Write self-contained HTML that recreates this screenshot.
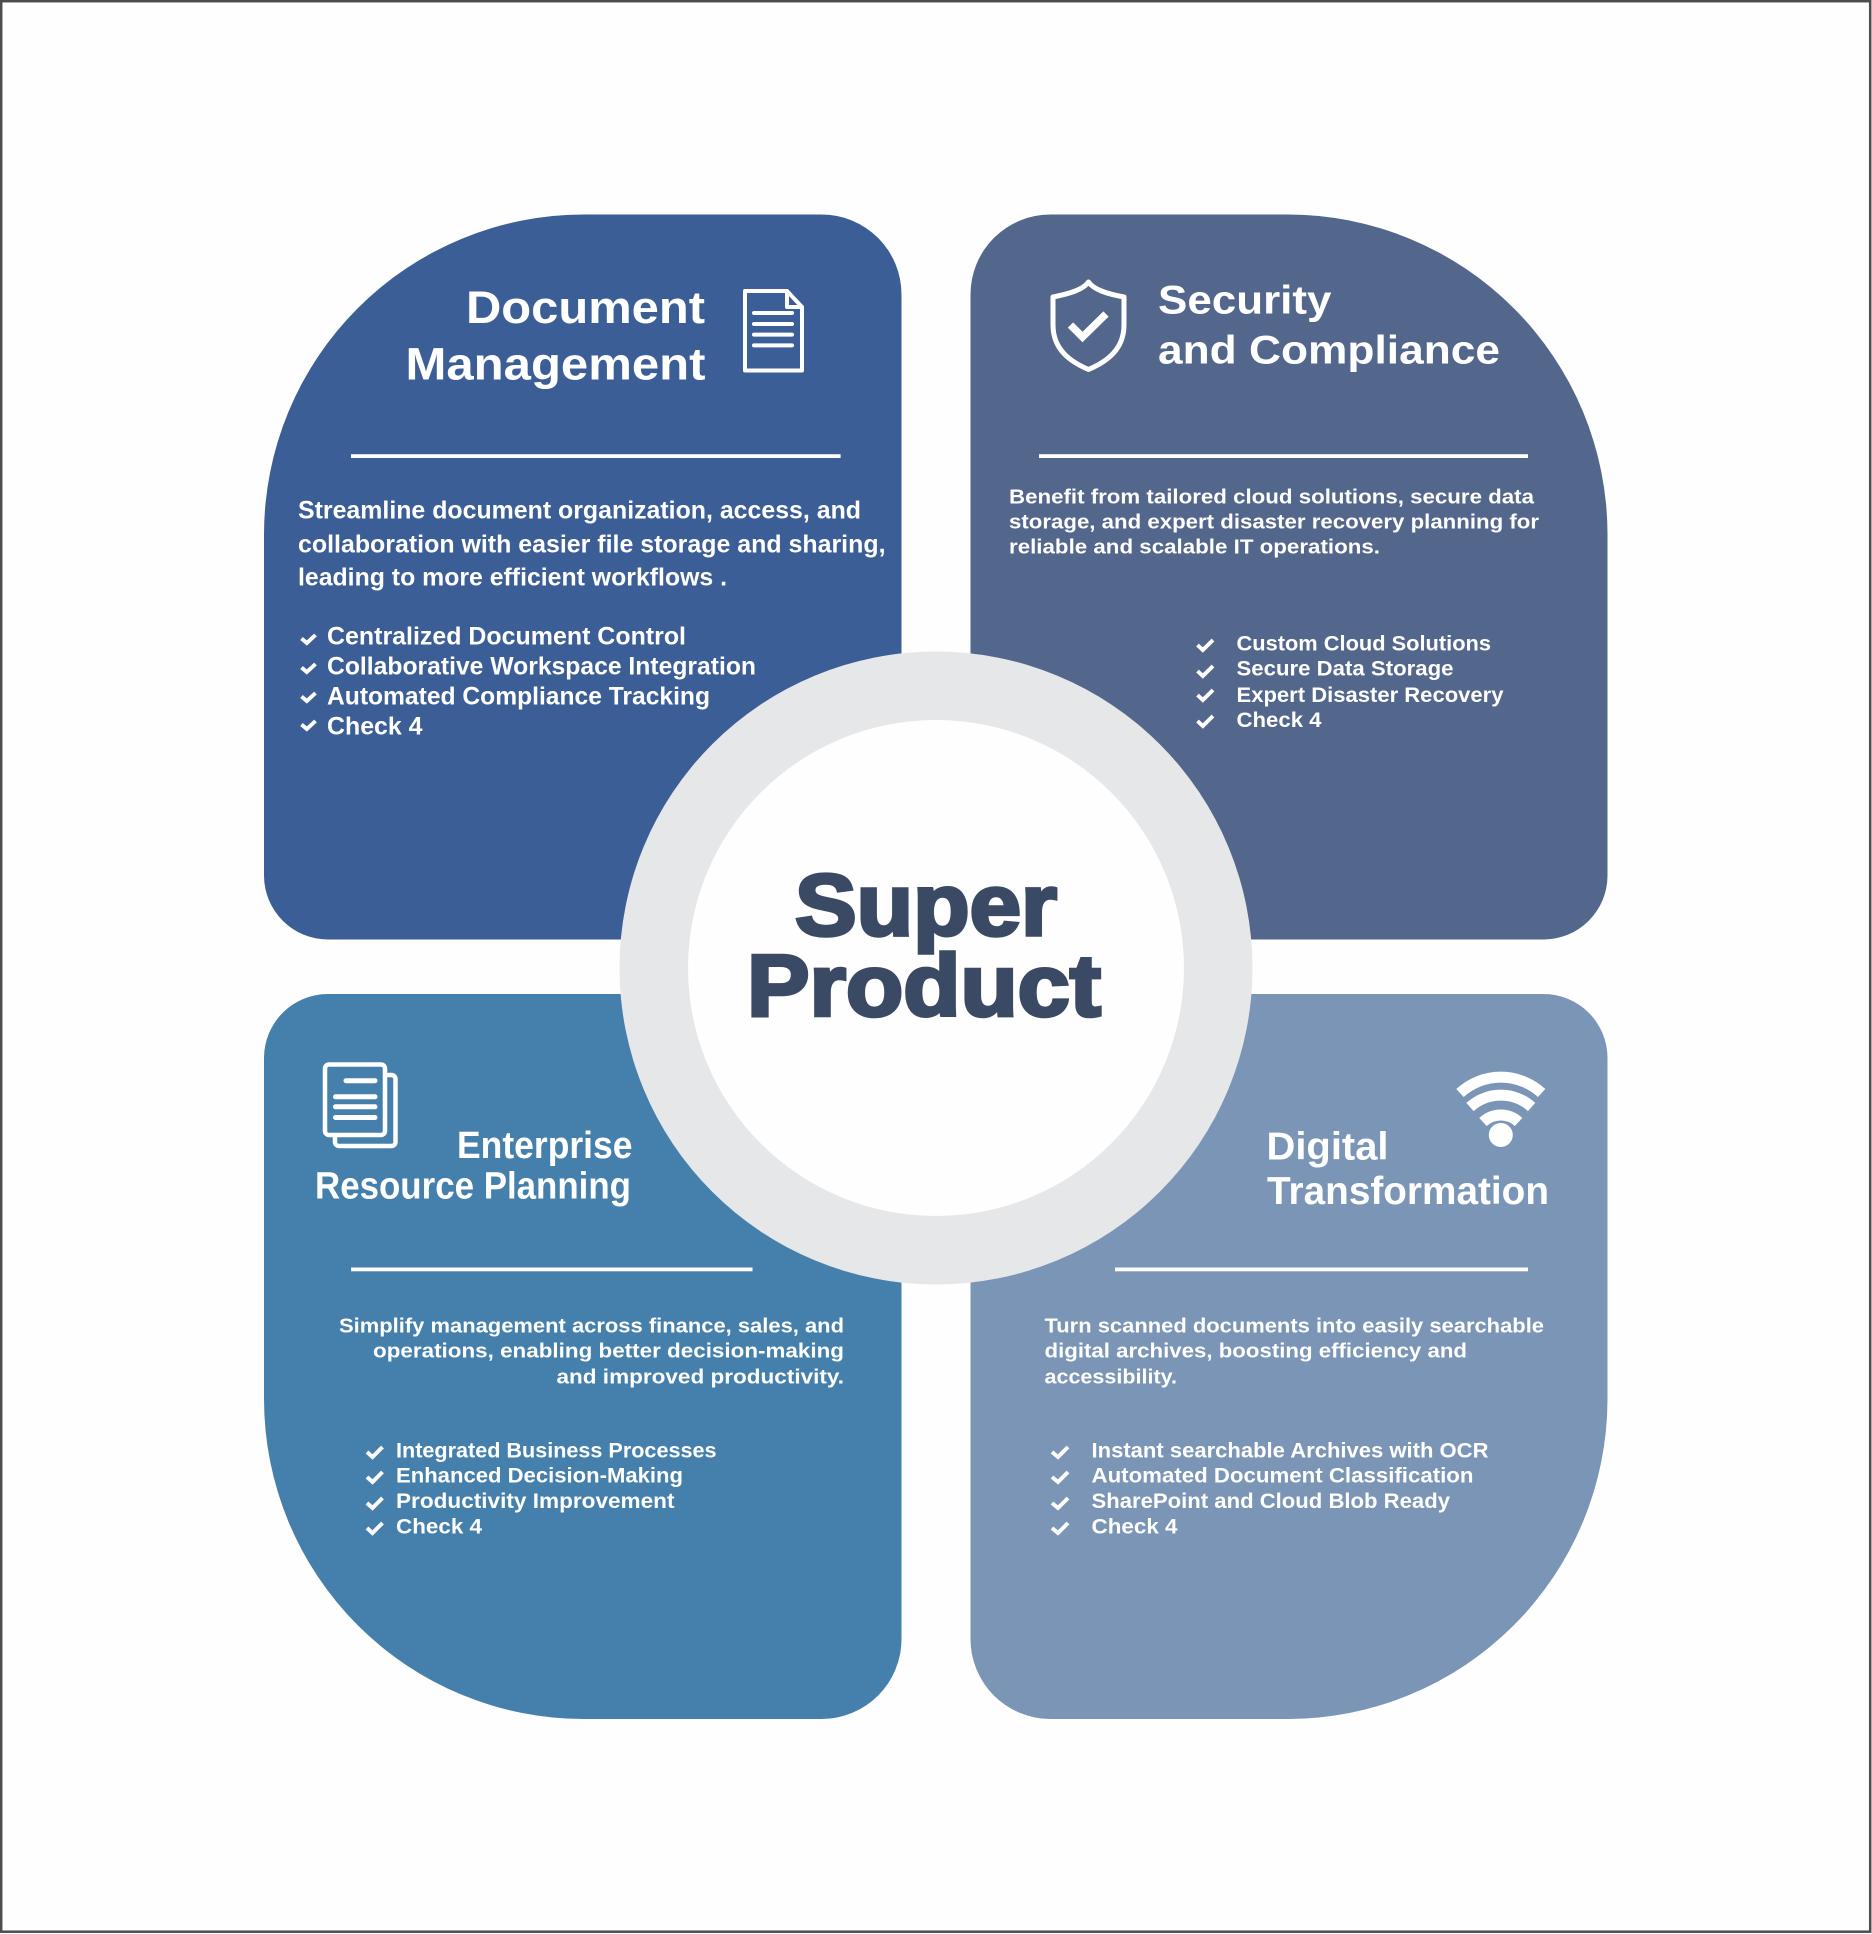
<!DOCTYPE html>
<html><head><meta charset="utf-8"><title>Super Product</title>
<style>
html,body{margin:0;padding:0;background:#fff}
svg{display:block}
text{font-family:"Liberation Sans",Arial,sans-serif;font-weight:700;fill:#fff}
.h{font-size:45px}.h2{font-size:40px}.b{font-size:20.5px}.l{font-size:21px}
.a{font-size:25px}
.c{fill:none;stroke:#fff;stroke-width:3.9}
.i{fill:none;stroke:#fff;stroke-width:4;stroke-linejoin:round;stroke-linecap:round}
</style></head><body>
<svg width="1872" height="1934" viewBox="0 0 1872 1934" xmlns="http://www.w3.org/2000/svg">
<rect width="1872" height="1934" fill="#fefefe"/>
<rect x="1.2" y="1.2" width="1869" height="1930.5" fill="none" stroke="#4d4d4d" stroke-width="2.5"/>
<path fill="#3c5e97" d="M264 534.5A320 320 0 0 1 584 214.5H821.5A80 80 0 0 1 901.5 294.5V939.5H328A64 64 0 0 1 264 875.5Z"/>
<path fill="#53668c" d="M970.5 294.5A80 80 0 0 1 1050.5 214.5H1287.5A320 320 0 0 1 1607.5 534.5V875.5A64 64 0 0 1 1543.5 939.5H970.5Z"/>
<path fill="#4580ac" d="M264 1058A64 64 0 0 1 328 994H901.5V1639A80 80 0 0 1 821.5 1719H584A320 320 0 0 1 264 1399Z"/>
<path fill="#7a95b5" d="M970.5 994H1543.5A64 64 0 0 1 1607.5 1058V1399A320 320 0 0 1 1287.5 1719H1050.5A80 80 0 0 1 970.5 1639Z"/>
<circle cx="936" cy="968" r="316.5" fill="#e6e7e9"/>
<circle cx="936" cy="968" r="248" fill="#fefefe"/>
<g fill="#fff">
<rect x="351" y="454.2" width="489.6" height="3.8"/>
<rect x="1039" y="454.2" width="489" height="3.8"/>
<rect x="351" y="1267.5" width="401.5" height="3.8"/>
<rect x="1115" y="1267.5" width="413" height="3.8"/>
</g>
<text x="795" y="935" textLength="262" lengthAdjust="spacingAndGlyphs" style="fill:#3b4a64;stroke:#3b4a64;stroke-width:3.5;font-size:87px">Super</text>
<text x="747" y="1015.7" textLength="354" lengthAdjust="spacingAndGlyphs" style="fill:#3b4a64;stroke:#3b4a64;stroke-width:3.5;font-size:87px">Product</text>

<text class="h" x="466" y="323" textLength="239" lengthAdjust="spacingAndGlyphs">Document</text>
<text class="h" x="405.5" y="379.6" textLength="300" lengthAdjust="spacingAndGlyphs">Management</text>
<path class="i" d="M745 291H787L802 307V370.5H745Z M787 291V307H802"/>
<path class="i" d="M754 313H792M754 324H792M754 334.6H792M754 345.4H792" stroke-width="3"/>
<text class="a" x="298" y="518.6" textLength="563" lengthAdjust="spacingAndGlyphs">Streamline document organization, access, and</text>
<text class="a" x="298" y="552.6" textLength="587.5" lengthAdjust="spacingAndGlyphs">collaboration with easier file storage and sharing,</text>
<text class="a" x="298" y="585.7" textLength="429" lengthAdjust="spacingAndGlyphs">leading to more efficient workflows .</text>
<text class="a" x="327" y="644.6" textLength="359" lengthAdjust="spacingAndGlyphs">Centralized Document Control</text>
<text class="a" x="327" y="674.5" textLength="429" lengthAdjust="spacingAndGlyphs">Collaborative Workspace Integration</text>
<text class="a" x="327" y="704.6" textLength="383" lengthAdjust="spacingAndGlyphs">Automated Compliance Tracking</text>
<text class="a" x="327" y="734.6" textLength="95.5" lengthAdjust="spacingAndGlyphs">Check 4</text>
<path class="c" d="M301.5 638.5L306.8 643L315.5 635M301.5 667.5L306.8 672L315.5 664M301.5 696.5L306.8 701L315.5 693M301.5 724.5L306.8 729L315.5 721"/>

<text class="h2" x="1158" y="313.5" textLength="173.5" lengthAdjust="spacingAndGlyphs">Security</text>
<text class="h2" x="1158" y="363.5" textLength="342" lengthAdjust="spacingAndGlyphs">and Compliance</text>
<path d="M1088.5 282C1094 290 1108 294 1124 297V325C1124 350 1106 362 1088.5 369.5C1071 362 1053 350 1053 325V297C1068 294 1083 290 1088.5 282Z" fill="none" stroke="#fff" stroke-width="5" stroke-linejoin="round"/>
<path d="M1070.5 325L1082.5 337L1106 314" fill="none" stroke="#fff" stroke-width="7.5"/>
<text class="b" x="1009" y="503.6" textLength="525" lengthAdjust="spacingAndGlyphs">Benefit from tailored cloud solutions, secure data</text>
<text class="b" x="1009" y="528.6" textLength="530" lengthAdjust="spacingAndGlyphs">storage, and expert disaster recovery planning for</text>
<text class="b" x="1009" y="553.6" textLength="371" lengthAdjust="spacingAndGlyphs">reliable and scalable IT operations.</text>
<text class="l" x="1236.5" y="650.7" textLength="254.5" lengthAdjust="spacingAndGlyphs">Custom Cloud Solutions</text>
<text class="l" x="1236.5" y="675.7" textLength="217" lengthAdjust="spacingAndGlyphs">Secure Data Storage</text>
<text class="l" x="1236.5" y="701.8" textLength="267" lengthAdjust="spacingAndGlyphs">Expert Disaster Recovery</text>
<text class="l" x="1236.5" y="726.8" textLength="85" lengthAdjust="spacingAndGlyphs">Check 4</text>
<path class="c" d="M1197.5 645L1202.8 650L1213 640M1197.5 671L1202.8 676L1213 666M1197.5 695L1202.8 700L1213 690M1197.5 721L1202.8 726L1213 716"/>

<rect x="335" y="1075" width="60.5" height="71" rx="4" fill="none" stroke="#fff" stroke-width="4.5"/>
<rect x="325" y="1064.5" width="60" height="70.5" rx="4" fill="#4580ac" stroke="#fff" stroke-width="4.5"/>
<path d="M346 1080.7H375M335.5 1096.8H375M335.5 1106.8H375M335.5 1117.5H375" fill="none" stroke="#fff" stroke-width="5" stroke-linecap="round"/>
<text class="h2" style="font-size:38px" x="457" y="1158" textLength="175.5" lengthAdjust="spacingAndGlyphs">Enterprise</text>
<text class="h2" style="font-size:38px" x="315" y="1198.5" textLength="316" lengthAdjust="spacingAndGlyphs">Resource Planning</text>
<text class="b" x="339" y="1332.5" textLength="505" lengthAdjust="spacingAndGlyphs">Simplify management across finance, sales, and</text>
<text class="b" x="373" y="1357.5" textLength="471" lengthAdjust="spacingAndGlyphs">operations, enabling better decision-making</text>
<text class="b" x="556.5" y="1383.6" textLength="287.5" lengthAdjust="spacingAndGlyphs">and improved productivity.</text>
<text class="l" x="396" y="1457.5" textLength="320.5" lengthAdjust="spacingAndGlyphs">Integrated Business Processes</text>
<text class="l" x="396" y="1482.5" textLength="287" lengthAdjust="spacingAndGlyphs">Enhanced Decision-Making</text>
<text class="l" x="396" y="1508" textLength="278.5" lengthAdjust="spacingAndGlyphs">Productivity Improvement</text>
<text class="l" x="396" y="1533.6" textLength="86" lengthAdjust="spacingAndGlyphs">Check 4</text>
<path class="c" d="M367 1452L372.5 1457L382.5 1447M367 1477L372.5 1482L382.5 1472M367 1503L372.5 1508L382.5 1498M367 1528L372.5 1533L382.5 1523"/>

<g fill="none" stroke="#fff" stroke-width="11">
<path d="M1460 1093A60.5 60.5 0 0 1 1541.6 1093"/>
<path d="M1470 1107A46 46 0 0 1 1531.6 1107"/>
<path d="M1483 1122A26 26 0 0 1 1518.6 1122"/>
</g>
<ellipse cx="1500.8" cy="1135" rx="12" ry="12" fill="#fff"/>
<text class="h2" style="font-size:39px" x="1266.5" y="1159.3" textLength="122" lengthAdjust="spacingAndGlyphs">Digital</text>
<text class="h2" style="font-size:39px" x="1267" y="1204" textLength="282" lengthAdjust="spacingAndGlyphs">Transformation</text>
<text class="b" x="1044.5" y="1332.5" textLength="499.5" lengthAdjust="spacingAndGlyphs">Turn scanned documents into easily searchable</text>
<text class="b" x="1044.5" y="1357.5" textLength="422.5" lengthAdjust="spacingAndGlyphs">digital archives, boosting efficiency and</text>
<text class="b" x="1044.5" y="1383.6" textLength="132.5" lengthAdjust="spacingAndGlyphs">accessibility.</text>
<text class="l" x="1091.5" y="1457.5" textLength="397" lengthAdjust="spacingAndGlyphs">Instant searchable Archives with OCR</text>
<text class="l" x="1091.5" y="1482.5" textLength="382" lengthAdjust="spacingAndGlyphs">Automated Document Classification</text>
<text class="l" x="1091.5" y="1508" textLength="358.5" lengthAdjust="spacingAndGlyphs">SharePoint and Cloud Blob Ready</text>
<text class="l" x="1091.5" y="1533.6" textLength="86" lengthAdjust="spacingAndGlyphs">Check 4</text>
<path class="c" d="M1052 1452L1058 1457L1068 1447M1052 1477L1058 1482L1068 1472M1052 1503L1058 1508L1068 1498M1052 1528L1058 1533L1068 1523"/>
</svg>
</body></html>
